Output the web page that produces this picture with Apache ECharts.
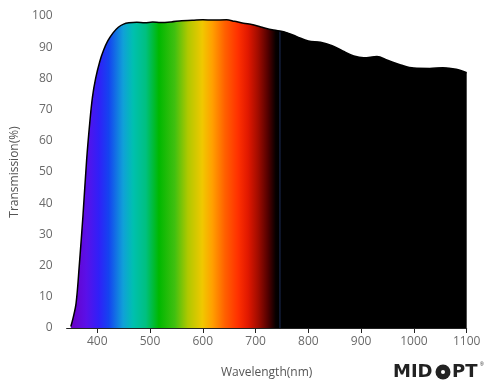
<!DOCTYPE html>
<html><head><meta charset="utf-8">
<script src="https://cdn.jsdelivr.net/npm/echarts@6/dist/echarts.min.js"></script>
<style>html,body{margin:0;padding:0;background:#fff}#c{width:500px;height:388px}</style>
</head><body><div id="c"></div>
<script>
const wavelengths = [350,354,360,366,373,380,386,391,397,405,412,420,430,440,450,460,475,490,505,520,540,560,580,600,620,645,660,677,695,710,734,753,778,800,823,845,865,886,905,930,950,975,1000,1030,1055,1080,1100];
const transmission = [0.5,3,8,20,36,54,66,74,80,85.5,89,92,94.6,96.4,97.4,97.8,98.0,97.8,98.1,97.9,98.1,98.5,98.6,98.8,98.7,98.8,98.3,97.7,97.2,96.5,95.5,95,93.4,92,91.6,90.5,88.8,87.2,86.6,87,85.8,84.3,83.3,83.2,83.4,82.9,81.8];
const xTicks = [400,500,600,700,800,900,1000,1100];
const yTicks = [0,10,20,30,40,50,60,70,80,90,100];
const spectrumNm = [350,379,403,422,449,468,492,517,547,572,599,618,642,667,686,705,724,738,744,745.5,747,748,1100];
const spectrumColors = ['#6a00c4','#5a10e8','#3020f8','#1444f0','#10a0d8','#00c0b0','#00c080','#00b800','#40c010','#b0c800','#f0c800','#ffa000','#ff6000','#ff3000','#e01800','#a00c00','#500000','#080000','#000000','#101a34','#101a34','#000000','#000000'];

const lo = wavelengths[0], hi = wavelengths[wavelengths.length-1];
const stops = spectrumNm.map((nm,i)=>({offset:(nm-lo)/(hi-lo), color:spectrumColors[i]}));

const chart = echarts.init(document.getElementById('c'), null, {renderer:'canvas'});
const font = 'Open Sans';
chart.setOption({
  animation:false,
  grid:{left:66.6, right:33.3, top:16, bottom:60},
  xAxis:{
    type:'value', min:342, max:1100,
    name:'Wavelength(nm)', nameLocation:'middle', nameGap:39,
    nameTextStyle:{color:'#555', fontSize:12, fontFamily:font},
    axisLine:{show:true, lineStyle:{color:'#222', width:1}},
    axisTick:{show:true, length:5, lineStyle:{color:'#222'}, customValues:xTicks},
    axisLabel:{color:'#6a6a6a', fontSize:12, fontFamily:font, margin:8, customValues:xTicks, formatter:v=>String(v)},
    splitLine:{show:false}
  },
  yAxis:{
    type:'value', min:0, max:100, interval:10,
    name:'Transmission(%)', nameLocation:'middle', nameGap:46, nameRotate:90,
    nameTextStyle:{color:'#555', fontSize:12, fontFamily:font},
    axisLine:{show:false}, axisTick:{show:false},
    axisLabel:{color:'#6a6a6a', fontSize:12, fontFamily:font, margin:14, customValues:yTicks},
    splitLine:{show:false}
  },
  series:[{
    type:'line',
    data:wavelengths.map((w,i)=>[w,transmission[i]]),
    smooth:0.35, symbol:'none',
    lineStyle:{color:'#000', width:1.5},
    areaStyle:{opacity:1, color:new echarts.graphic.LinearGradient(0,0,1,0,stops)}
  }],
  graphic:[
    {type:'text', left:393, top:363, style:{text:'MID', font:'bold 18px "DejaVu Sans"', fill:'#222'}},
    {type:'circle', shape:{cx:443, cy:372, r:7.5}, style:{fill:'#222'}},
    {type:'circle', shape:{cx:443, cy:372, r:2}, style:{fill:'#fff'}},
    {type:'text', left:452, top:363, style:{text:'PT', font:'bold 18px "DejaVu Sans"', fill:'#222'}},
    {type:'text', left:480, top:362, style:{text:'®', font:'5px "Liberation Sans"', fill:'#222'}}
  ]
});
</script></body></html>
